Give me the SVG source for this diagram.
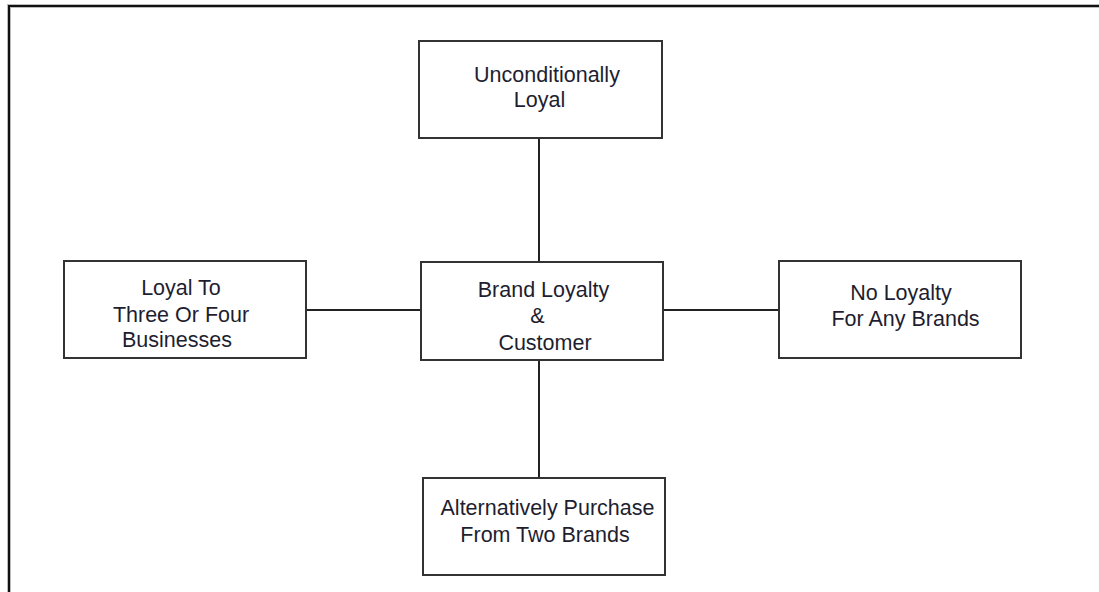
<svg xmlns="http://www.w3.org/2000/svg" width="1099" height="592" viewBox="0 0 1099 592">
<style>
.box{fill:#fff;stroke:#333;stroke-width:2}
.t{font-family:"Liberation Sans",Arial,sans-serif;font-size:21.5px;fill:#1e1e30;text-anchor:middle}
.c{stroke:#222;stroke-width:2;fill:none}
</style>
<rect width="1099" height="592" fill="#fff"/>
<path d="M9,600 V6 H1110" fill="none" stroke="#bbb" stroke-width="4"/>
<path d="M9,600 V6 H1110" fill="none" stroke="#111" stroke-width="2"/>
<g id="connectors">
<line class="c" x1="539" y1="138" x2="539" y2="262"/>
<line class="c" x1="539" y1="360" x2="539" y2="478"/>
<line class="c" x1="306" y1="310" x2="421" y2="310"/>
<line class="c" x1="663" y1="310" x2="779" y2="310"/>
</g>
<g id="top">
<rect class="box" x="419" y="41" width="243" height="97"/>
<text class="t" x="547" y="82">Unconditionally</text>
<text class="t" x="539.5" y="107">Loyal</text>
</g>
<g id="left">
<rect class="box" x="64" y="261" width="242" height="97"/>
<text class="t" x="181" y="295">Loyal To</text>
<text class="t" x="181" y="322">Three Or Four</text>
<text class="t" x="177" y="347">Businesses</text>
</g>
<g id="center">
<rect class="box" x="421" y="262" width="242" height="98"/>
<text class="t" x="543.5" y="297">Brand Loyalty</text>
<text class="t" x="537.5" y="323">&amp;</text>
<text class="t" x="545" y="350">Customer</text>
</g>
<g id="right">
<rect class="box" x="779" y="261" width="242" height="97"/>
<text class="t" x="901" y="300">No Loyalty</text>
<text class="t" x="905.5" y="326">For Any Brands</text>
</g>
<g id="bottom">
<rect class="box" x="423" y="478" width="242" height="97"/>
<text class="t" x="547.5" y="515">Alternatively Purchase</text>
<text class="t" x="545" y="542">From Two Brands</text>
</g>
</svg>
